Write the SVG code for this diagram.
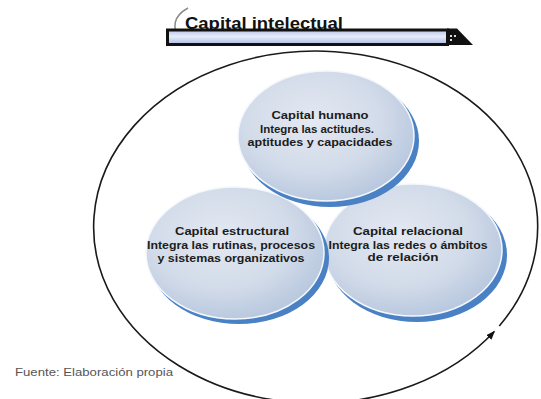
<svg xmlns="http://www.w3.org/2000/svg" width="541" height="399" viewBox="0 0 541 399">
<style>
.t{font-family:"Liberation Sans",Arial,sans-serif;font-weight:bold;font-size:11px;fill:#1c1c1c;text-anchor:middle}
.rim{fill:#4a80c4}
.body{fill:url(#bub);stroke:#f4f8fc;stroke-width:1.5}
</style>
<defs>
<radialGradient id="bub" cx="0.42" cy="0.38" r="0.65">
<stop offset="0" stop-color="#e4e9f2"/>
<stop offset="0.6" stop-color="#d2dbe9"/>
<stop offset="1" stop-color="#b7c7de"/>
</radialGradient>
<linearGradient id="bar" x1="0" y1="0" x2="0" y2="1">
<stop offset="0" stop-color="#b7c7ea"/>
<stop offset="0.45" stop-color="#e6ecf9"/>
<stop offset="1" stop-color="#a9bbe4"/>
</linearGradient>
<marker id="ah" markerWidth="9" markerHeight="7" refX="8" refY="3.5" orient="auto" markerUnits="userSpaceOnUse">
<path d="M0,0 L9,3.5 L0,7 z" fill="#111"/>
</marker>
</defs>
<rect width="541" height="399" fill="#fff"/>

<g id="connectors">
<path d="M499.3,325.9 A222,176 0 1 0 494.3,331.5" fill="none" stroke="#1a1a1a" stroke-width="1.6" marker-end="url(#ah)"/>
</g>

<g id="title">
<path d="M188,8 Q166,20 181,42" fill="none" stroke="#8a8a8a" stroke-width="1.5"/>
<text x="185" y="29" font-family="Liberation Sans, Arial, sans-serif" font-weight="bold" font-size="16" fill="#111" textLength="158" lengthAdjust="spacingAndGlyphs">Capital intelectual</text>
<rect x="167.5" y="30" width="280" height="14.5" fill="url(#bar)" stroke="#111" stroke-width="3"/>
<polygon points="447,28.5 457,28.5 473,45 447,45" fill="#111"/>
<rect x="450" y="35" width="2" height="2" fill="#ddd"/>
<rect x="454" y="35" width="2" height="2" fill="#ddd"/>
<rect x="450" y="39" width="2" height="2" fill="#ddd"/>
</g>

<g id="capital-relacional">
<ellipse class="rim" cx="417" cy="255" rx="90" ry="67"/>
<ellipse class="body" cx="413" cy="250" rx="89" ry="66"/>
<text class="t" x="408" y="235" textLength="110" lengthAdjust="spacingAndGlyphs">Capital relacional</text>
<text class="t" x="408" y="249" textLength="159" lengthAdjust="spacingAndGlyphs">Integra las redes o ámbitos</text>
<text class="t" x="403" y="261" textLength="71" lengthAdjust="spacingAndGlyphs">de relación</text>
</g>

<g id="capital-estructural">
<ellipse class="rim" cx="239" cy="258" rx="90" ry="66"/>
<ellipse class="body" cx="235" cy="253" rx="89" ry="66"/>
<text class="t" x="232" y="235" textLength="114" lengthAdjust="spacingAndGlyphs">Capital estructural</text>
<text class="t" x="231" y="249" textLength="168" lengthAdjust="spacingAndGlyphs">Integra las rutinas, procesos</text>
<text class="t" x="231" y="262" textLength="147" lengthAdjust="spacingAndGlyphs">y sistemas organizativos</text>
</g>

<g id="capital-humano">
<ellipse class="rim" cx="330" cy="141" rx="89" ry="66"/>
<ellipse class="body" cx="326" cy="136" rx="88" ry="65"/>
<text class="t" x="320" y="119" textLength="97" lengthAdjust="spacingAndGlyphs">Capital humano</text>
<text class="t" x="317" y="133" textLength="114" lengthAdjust="spacingAndGlyphs">Integra las actitudes.</text>
<text class="t" x="320" y="146" textLength="145" lengthAdjust="spacingAndGlyphs">aptitudes y capacidades</text>
</g>

<text x="15" y="376" font-family="Liberation Sans, Arial, sans-serif" font-size="10" fill="#555" textLength="158" lengthAdjust="spacingAndGlyphs">Fuente: Elaboración propia</text>
</svg>
